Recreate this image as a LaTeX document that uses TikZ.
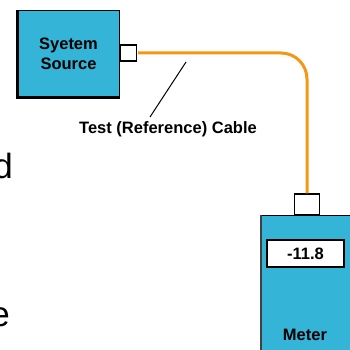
\documentclass[tikz,border=0pt]{standalone}
\usepackage{fontspec}
\setmainfont{Liberation Sans}
\definecolor{boxcyan}{RGB}{52,180,214}
\definecolor{cableorange}{RGB}{247,150,20}
\tikzset{
  unit/.style={draw=black, line width=1pt, fill=boxcyan, inner sep=0pt},
  port/.style={draw=black, line width=1.3pt, fill=white, inner sep=0pt, minimum width=16, minimum height=16},
  lbl/.style={font=\bfseries\fontsize{16.5}{20}\selectfont, inner sep=0pt, align=center},
  bigtxt/.style={font=\fontsize{35}{40}\selectfont, inner sep=0pt}
}
\begin{document}
\begin{tikzpicture}[x=1pt, y=-1pt]
\useasboundingbox (0,0) rectangle (349,350);
\node[bigtxt, anchor=base east] (wd) at (13,178) {d};
\node[bigtxt, anchor=base east] (we) at (10,326) {e};

\node[unit, minimum width=101, minimum height=86, lbl] (src) at (68.5,54) {Syetem\\Source};
\draw[line width=2.5pt] (src.north west) -- (src.south west) -- (src.south east);
\node[port, anchor=west] (srcport) at (src.east |- 0,53) {};

\node[port, minimum width=25, minimum height=21] (mport) at (307,204.5) {};
\node[unit, anchor=north west, minimum width=100, minimum height=145] (meter) at (261,215) {};
\draw[line width=2.5pt, draw=black!75] (meter.north west) -- (meter.south west);
\node[draw=black, line width=1.6pt, fill=white, minimum width=77, minimum height=27, lbl] (disp) at (305.5,253.5) {-11.8};
\node[lbl, anchor=base] (mlbl) at (305,340) {Meter};

\coordinate (c0) at (138,53);
\draw[cableorange, line width=3pt, rounded corners=26] (c0) -- (307,53) -- (mport.north);

\node[lbl, anchor=base] (clbl) at (168,133) {Test (Reference) Cable};
\coordinate (foot) at (150,117);
\coordinate (tip) at (186,62);
\draw[line width=1pt] (foot) -- (tip);
\end{tikzpicture}
\end{document}
